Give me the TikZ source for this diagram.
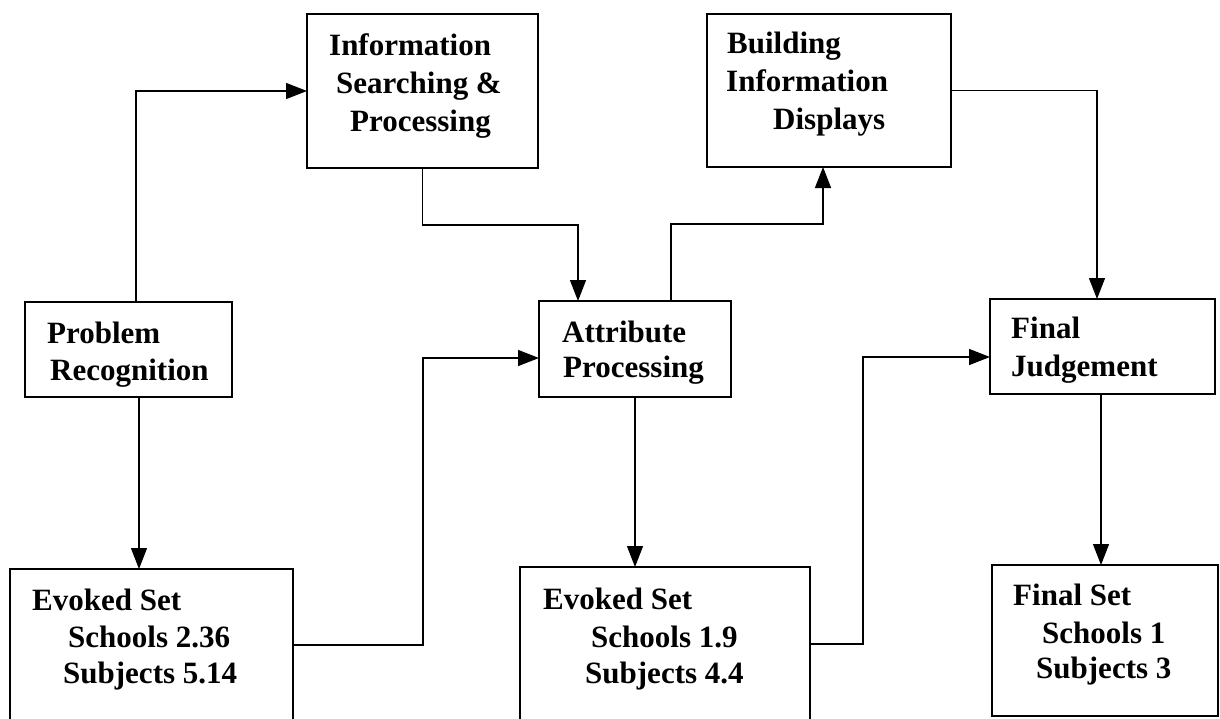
\documentclass[tikz,border=0pt]{standalone}
\usepackage{fontspec}
\setmainfont{Liberation Serif}
\usetikzlibrary{arrows.meta}
\begin{document}
\begin{tikzpicture}[x=1pt,y=-1pt,
  box/.style={draw, line width=1.6pt, inner sep=0pt, outer sep=0pt},
  lbl/.style={anchor=base west, inner sep=0pt, font=\bfseries\fontsize{31}{38}\selectfont},
  arr/.style={line width=1.3pt, -{Triangle[length=21pt,width=16pt]}}]
\clip (0,0) rectangle (1220,718);
\fill[white] (0,0) rectangle (1220,718);

% process boxes
\node[box, minimum width=207pt, minimum height=95pt]  (prob)  at (128.5,349.5) {};
\node[box, minimum width=231pt, minimum height=154pt] (info)  at (422.5,91)    {};
\node[box, minimum width=192pt, minimum height=96pt]  (attr)  at (635,349)     {};
\node[box, minimum width=244pt, minimum height=153pt] (build) at (829,90.5)    {};
\node[box, minimum width=225pt, minimum height=95pt]  (fj)    at (1102.5,346.5){};
\node[box, minimum width=283pt, minimum height=171pt] (ev1)   at (151.5,654.5) {};
\node[box, minimum width=290pt, minimum height=173pt] (ev2)   at (665,653.5)   {};
\node[box, minimum width=226pt, minimum height=151pt] (fs)    at (1105,640.5)  {};

% box texts
\node[lbl] (probA) at (47,343) {Problem};
\node[lbl] (probB) at (50,380) {Recognition};
\node[lbl] (infoA) at (329,55) {Information};
\node[lbl] (infoB) at (336,93) {Searching \&};
\node[lbl] (infoC) at (350,131) {Processing};
\node[lbl] (attrA) at (562,342) {Attribute};
\node[lbl] (attrB) at (563,377) {Processing};
\node[lbl] (buildA) at (727,53) {Building};
\node[lbl] (buildB) at (726,91) {Information};
\node[lbl] (buildC) at (773,129) {Displays};
\node[lbl] (fjA) at (1011,338) {Final};
\node[lbl] (fjB) at (1011,376) {Judgement};
\node[lbl] (evA) at (32,610) {Evoked Set};
\node[lbl] (evB) at (68,647) {Schools 2.36};
\node[lbl] (evC) at (63,683) {Subjects 5.14};
\node[lbl] (evD) at (543,609) {Evoked Set};
\node[lbl] (evE) at (591,647) {Schools 1.9};
\node[lbl] (evF) at (585,683) {Subjects 4.4};
\node[lbl] (fsA) at (1013,605) {Final Set};
\node[lbl] (fsB) at (1042,643) {Schools 1};
\node[lbl] (fsC) at (1036,678) {Subjects 3};

% connector anchor points
\coordinate (pUp)   at ([xshift=7.5pt]prob.north);
\coordinate (pDown) at ([xshift=10.5pt]prob.south);
\coordinate (ev1R)  at ([yshift=9.5pt]ev1.east);
\coordinate (attrL) at ([yshift=-9pt]attr.west);
\coordinate (attrU) at ([xshift=36pt]attr.north);
\coordinate (ev2R)  at ([yshift=9.5pt]ev2.east);
\coordinate (fjL)   at ([yshift=-10.5pt]fj.west);
\coordinate (fjD)   at ([xshift=-1.5pt]fj.south);
\coordinate (ij1) at (421,225);
\coordinate (ij2) at (578,225);
\coordinate (ab1) at (671,224);
\coordinate (ab2) at (823,224);
\coordinate (e1x) at (423,645);
\coordinate (e2x) at (863,644);
\coordinate (bx)  at (1097,90.5);

% connectors
\draw[arr] (pUp) |- (info.west);
\draw[arr] (pDown) -- (pDown |- ev1.north);
\draw[arr] (info.south) |- (ij2) -- (ij2 |- attr.north);
\draw[arr] (ev1R) -- (e1x) |- (attrL);
\draw[arr] (attrU) |- (ab2) -- (ab2 |- build.south);
\draw[arr] (attr.south) -- (attr.south |- ev2.north);
\draw[arr] (ev2R) -- (e2x) |- (fjL);
\draw[arr] (build.east) -- (bx) -- (bx |- fj.north);
\draw[arr] (fjD) -- (fjD |- fs.north);
\end{tikzpicture}
\end{document}
